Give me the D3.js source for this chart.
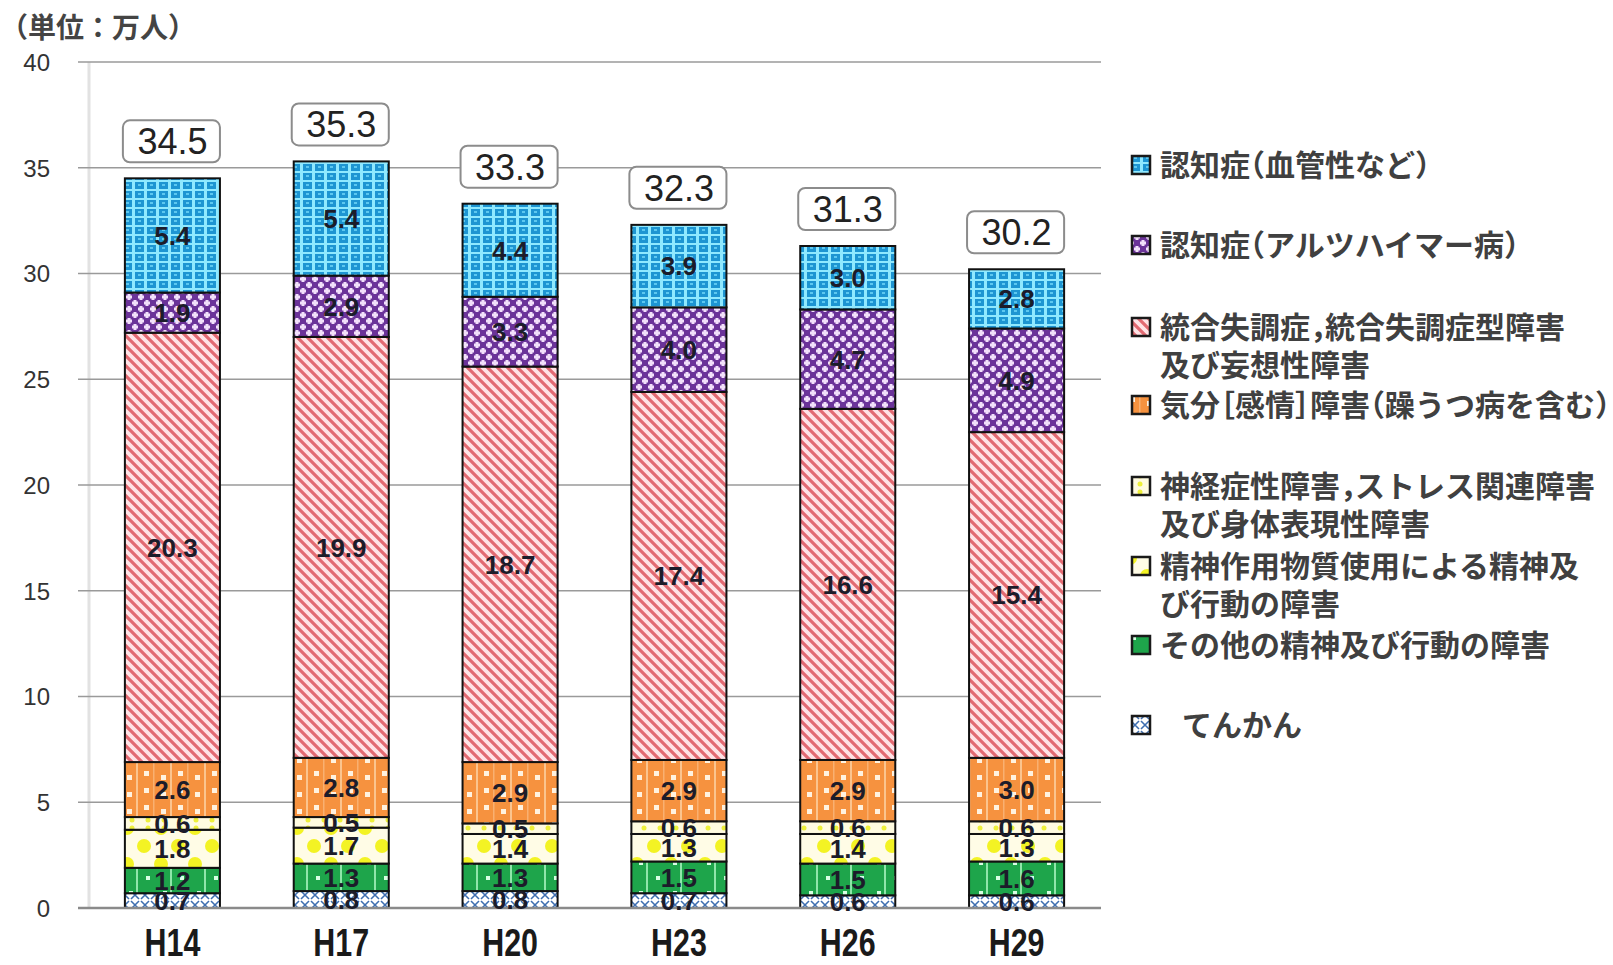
<!DOCTYPE html>
<html lang="ja">
<head>
<meta charset="utf-8">
<script src="https://cdn.jsdelivr.net/npm/d3@7"></script>
<style>
  html, body { margin: 0; padding: 0; background: #fff; }
  svg { display: block; }
  .legend-text { font-feature-settings: "halt"; }
</style>
</head>
<body>
<svg id="chart" width="1613" height="965"></svg>
<script>
// Survey years (Heisei) and totals shown above each bar (万人)
const years = ["H14", "H17", "H20", "H23", "H26", "H29"];
const totals = [34.5, 35.3, 33.3, 32.3, 31.3, 30.2];

// Stack segments, bottom to top
const epilepsy     = [0.7, 0.8, 0.8, 0.7, 0.6, 0.6];
const otherMental  = [1.2, 1.3, 1.3, 1.5, 1.5, 1.6];
const substance    = [1.8, 1.7, 1.4, 1.3, 1.4, 1.3];
const neurotic     = [0.6, 0.5, 0.5, 0.6, 0.6, 0.6];
const mood         = [2.6, 2.8, 2.9, 2.9, 2.9, 3.0];
const schizo       = [20.3, 19.9, 18.7, 17.4, 16.6, 15.4];
const alzheimer    = [1.9, 2.9, 3.3, 4.0, 4.7, 4.9];
const vascular     = [5.4, 5.4, 4.4, 3.9, 3.0, 2.8];

const yTicks = [0, 5, 10, 15, 20, 25, 30, 35, 40];
const unitLabel = "（単位：万人）";

// Series in stacking order (bottom first); legend lists them top first
const series = [
  { key: "epilepsy",  values: epilepsy,    label: ["てんかん"], indent: true },
  { key: "other",     values: otherMental, label: ["その他の精神及び行動の障害"] },
  { key: "substance", values: substance,   label: ["精神作用物質使用による精神及", "び行動の障害"] },
  { key: "neurotic",  values: neurotic,    label: ["神経症性障害，ストレス関連障害", "及び身体表現性障害"] },
  { key: "mood",      values: mood,        label: ["気分［感情］障害（躁うつ病を含む）"] },
  { key: "schizo",    values: schizo,      label: ["統合失調症，統合失調症型障害", "及び妄想性障害"] },
  { key: "alz",       values: alzheimer,   label: ["認知症（アルツハイマー病）"] },
  { key: "vasc",      values: vascular,    label: ["認知症（血管性など）"] }
];

const svg = d3.select("#chart");
const defs = svg.append("defs");

// ---- fill patterns ----
function pat(id, w, h, bg) {
  const p = defs.append("pattern").attr("id", id)
    .attr("patternUnits", "userSpaceOnUse").attr("width", w).attr("height", h);
  p.append("rect").attr("width", w).attr("height", h).attr("fill", bg);
  return p;
}
{ // vascular dementia: blue with light cyan grid
  const p = pat("p-vasc", 12, 9, "#1d95d2");
  p.append("rect").attr("x", 0).attr("y", 0).attr("width", 3).attr("height", 9).attr("fill", "#8fe9ff");
  p.append("rect").attr("x", 0).attr("y", 0).attr("width", 12).attr("height", 2).attr("fill", "#8fe9ff");
  p.append("rect").attr("x", 6).attr("y", 4).attr("width", 3).attr("height", 2).attr("fill", "#5cc8f0");
}
{ // alzheimer: purple with lilac crosses
  const p = pat("p-alz", 12, 12, "#6b3399");
  [[3, 3], [9, 9]].forEach(([cx, cy]) => {
    p.append("rect").attr("x", cx - 1.5).attr("y", cy - 3).attr("width", 3).attr("height", 6).attr("fill", "#f2e0fb");
    p.append("rect").attr("x", cx - 3).attr("y", cy - 1.5).attr("width", 6).attr("height", 3).attr("fill", "#f2e0fb");
  });
}
{ // schizophrenia: pale pink with red diagonal stripes
  const p = pat("p-schizo", 10, 10, "#ffe3e6");
  p.append("path").attr("d", "M-2,-2 L12,12 M-7,3 L3,13 M7,-3 L13,3")
    .attr("stroke", "#e26a72").attr("stroke-width", 3.2);
}
{ // mood: orange with light lines and white dots
  const p = pat("p-mood", 34, 34, "#f6923f");
  p.append("rect").attr("x", 0).attr("y", 0).attr("width", 2).attr("height", 34).attr("fill", "#fbc48e");
  p.append("rect").attr("x", 17).attr("y", 0).attr("width", 1.5).attr("height", 34).attr("fill", "#f9b070");
  [[8, 6], [25, 6], [8, 23], [25, 23]].forEach(([x, y], i) => {
    p.append("rect").attr("x", x).attr("y", y + (i % 2) * 4).attr("width", 5).attr("height", 5).attr("fill", "#fff2e0");
  });
}
{ // neurotic: pale yellow with yellow dots
  const p = pat("p-neurotic", 16, 8, "#fffbe0");
  p.append("circle").attr("cx", 4).attr("cy", 4).attr("r", 2.5).attr("fill", "#eef03a");
}
{ // substance: pale with large yellow dots
  const p = pat("p-substance", 34, 36, "#fffce6");
  p.append("circle").attr("cx", 8).attr("cy", 18).attr("r", 7).attr("fill", "#f3f324");
  p.append("circle").attr("cx", 25).attr("cy", 0).attr("r", 7).attr("fill", "#f3f324");
  p.append("circle").attr("cx", 25).attr("cy", 36).attr("r", 7).attr("fill", "#f3f324");
}
{ // other: green with light lines and dots
  const p = pat("p-other", 34, 30, "#1ea54b");
  p.append("rect").attr("x", 0).attr("y", 0).attr("width", 2).attr("height", 30).attr("fill", "#8fe6aa");
  [[10, 6], [27, 21]].forEach(([x, y]) => {
    p.append("rect").attr("x", x).attr("y", y).attr("width", 4).attr("height", 4).attr("fill", "#d8ffe4");
  });
}
{ // epilepsy: white with blue cross marks
  const p = pat("p-epilepsy", 10, 10, "#ffffff");
  p.append("path").attr("d", "M1,1 L9,9 M9,1 L1,9").attr("stroke", "#3e6eb0").attr("stroke-width", 1.6);
}

// ---- scales ----
const x = d3.scaleBand().domain(years).range([88, 1101]).paddingInner(0.437).paddingOuter(0.2185);
const y = d3.scaleLinear().domain([0, 40]).range([908, 62]);

// light vertical axis strip
svg.append("line").attr("x1", 89).attr("x2", 89).attr("y1", y(40)).attr("y2", y(0))
  .attr("stroke", "#e2e2e2").attr("stroke-width", 3);

// gridlines
svg.append("g").selectAll("line").data(yTicks.filter(t => t > 0)).join("line")
  .attr("x1", 78).attr("x2", 1101)
  .attr("y1", d => y(d)).attr("y2", d => y(d))
  .attr("stroke", "#9a9a9a").attr("stroke-width", 1.6);

// y-axis tick labels
const yAxis = d3.axisLeft(y).tickValues(yTicks).tickSize(0).tickPadding(0);
const gy = svg.append("g").attr("transform", "translate(50,0)").call(yAxis);
gy.select(".domain").remove();
gy.selectAll("text").attr("font-family", "Liberation Sans, Arial, sans-serif")
  .attr("font-size", 24).attr("fill", "#333").attr("text-anchor", "end").attr("dy", "0.35em");

// unit label
svg.append("text").attr("x", 0).attr("y", 38).text(unitLabel)
  .attr("font-family", "Noto Sans CJK JP, sans-serif").attr("font-weight", 700)
  .attr("font-size", 28).attr("fill", "#444");

// ---- stacked bars ----
const rows = years.map((yr, i) => {
  const o = { year: yr };
  series.forEach(s => o[s.key] = s.values[i]);
  return o;
});
const stack = d3.stack().keys(series.map(s => s.key));
const layers = stack(rows);

const gBars = svg.append("g");
layers.forEach((layer, li) => {
  const key = series[li].key;
  const g = gBars.append("g");
  g.selectAll("rect").data(layer).join("rect")
    .attr("x", d => x(d.data.year))
    .attr("width", x.bandwidth())
    .attr("y", d => y(d[1]))
    .attr("height", d => y(d[0]) - y(d[1]))
    .attr("fill", `url(#p-${key})`)
    .attr("stroke", "#111").attr("stroke-width", 2);
});

// baseline
svg.append("line").attr("x1", 78).attr("x2", 1101).attr("y1", y(0)).attr("y2", y(0))
  .attr("stroke", "#8a8a8a").attr("stroke-width", 2.5);

// segment value labels
layers.forEach((layer, li) => {
  svg.append("g").selectAll("text").data(layer).join("text")
    .attr("x", d => x(d.data.year) + x.bandwidth() / 2)
    .attr("y", d => (y(d[0]) + y(d[1])) / 2)
    .attr("dy", "0.36em")
    .attr("text-anchor", "middle")
    .attr("font-family", "Liberation Sans, Arial, sans-serif")
    .attr("font-weight", "bold")
    .attr("font-size", 26)
    .attr("fill", "#1c1c2a")
    .text(d => d3.format(".1f")(d[1] - d[0]));
});

// total labels in rounded boxes
const gTot = svg.append("g");
years.forEach((yr, i) => {
  const top = y(d3.sum(series, s => s.values[i]));
  const bx = x(yr), bw = x.bandwidth();
  gTot.append("rect").attr("x", bx - 2).attr("y", top - 58).attr("width", bw + 2).attr("height", 42)
    .attr("rx", 7).attr("fill", "#fff").attr("stroke", "#8c8c8c").attr("stroke-width", 2);
  gTot.append("text").attr("x", bx + bw / 2).attr("y", top - 37).attr("dy", "0.36em")
    .attr("text-anchor", "middle").attr("font-family", "Liberation Sans, Arial, sans-serif")
    .attr("font-size", 36).attr("fill", "#222").text(d3.format(".1f")(totals[i]));
});

// x-axis labels (bold, horizontally condensed)
const xAxis = d3.axisBottom(x).tickSize(0).tickPadding(0);
const gx = svg.append("g").attr("transform", `translate(0,${y(0)})`).call(xAxis);
gx.select(".domain").remove();
gx.selectAll("text").attr("y", 48).attr("dy", 0)
  .attr("transform", "scale(0.8,1)")
  .attr("font-family", "Liberation Sans, Arial, sans-serif")
  .attr("font-weight", "bold").attr("font-size", 38).attr("fill", "#1a1a1a");

// ---- legend ----
const legendRows = [165, 245, 327, 405, 486, 566, 645, 725];
const legendSeries = series.slice().reverse();
const gL = svg.append("g");
legendSeries.forEach((s, i) => {
  const cy = legendRows[i];
  gL.append("rect").attr("x", 1132).attr("y", cy - 9).attr("width", 18).attr("height", 18)
    .attr("fill", `url(#p-${s.key})`).attr("stroke", "#1a1a1a").attr("stroke-width", 2.5);
  s.label.forEach((line, j) => {
    gL.append("text").attr("class", "legend-text")
      .attr("x", s.indent ? 1182 : 1160).attr("y", cy + j * 38).attr("dy", "0.36em")
      .attr("font-family", "Noto Sans CJK JP, sans-serif").attr("font-weight", 700)
      .attr("font-size", 30).attr("fill", "#404040").text(line);
  });
});
</script>
</body>
</html>
